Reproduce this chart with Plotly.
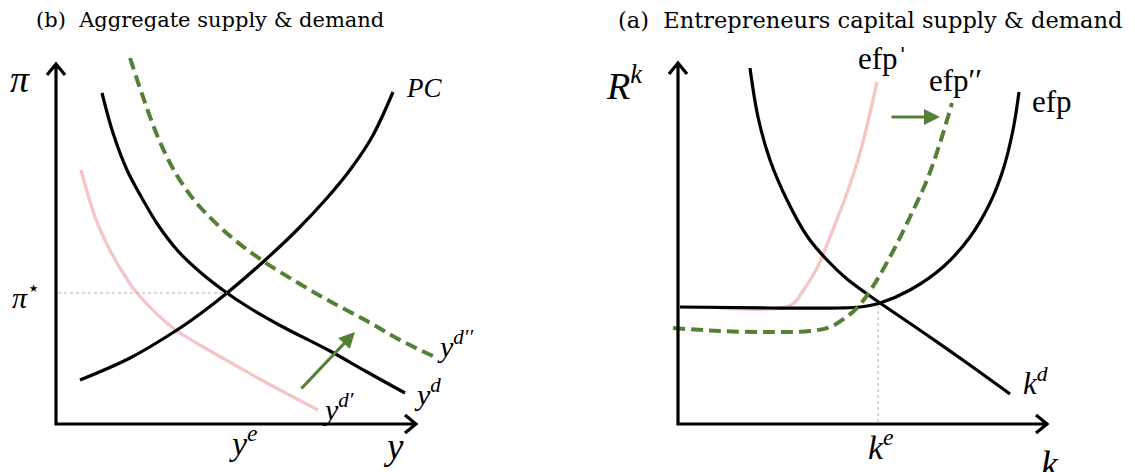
import plotly.graph_objects as go

# ---------------------------------------------------------------------------
# Curve data (diagram coordinates, y grows downward like the source figure)
# ---------------------------------------------------------------------------
# (b) Aggregate supply & demand
pc_x = [80, 130, 177, 200, 227, 263, 297, 327, 350, 372, 393]
pc_y = [380, 358, 330, 314, 293, 262, 230, 198, 170, 137, 92]

yd_x = [102, 113, 127, 143, 158, 178, 200, 227, 253, 283, 330, 367, 405]
yd_y = [93, 133, 170, 200, 225, 251, 272, 293, 310, 327, 351, 372, 393]

yd2_x = [130, 143, 157, 170, 183, 200, 230, 263, 300, 333, 367, 400, 437]
yd2_y = [58, 97, 135, 163, 185, 207, 236, 261, 284, 303, 321, 340, 358]

yd1_x = [81, 88, 95, 103, 113, 125, 137, 173, 200, 233, 267, 318]
yd1_y = [170, 195, 217, 236, 256, 276, 293, 328, 345, 364, 383, 410]

# (a) Entrepreneurs capital supply & demand
kd_x = [750, 758, 770, 787, 807, 827, 847, 870, 880, 927, 967, 1010]
kd_y = [68, 117, 160, 200, 236, 260, 279, 296, 303, 335, 363, 394]

efp_x = [680, 770, 840, 860, 880, 910, 943, 970, 990, 1003, 1013, 1019]
efp_y = [307, 308, 308, 307, 303, 290, 267, 237, 203, 170, 130, 92]

efp1_x = [720, 787, 795, 803, 817, 830, 847, 860, 870, 877]
efp1_y = [308, 307, 302, 291, 268, 237, 193, 153, 113, 82]

efp2_x = [673, 720, 770, 810, 830, 845, 858, 870, 890, 910, 927, 940, 952]
efp2_y = [328, 331, 332, 331, 327, 318, 307, 291, 257, 217, 180, 143, 103]

# equilibrium points
pi_star = (227, 293)
k_e = (878, 305)

GREEN = "#548235"
PINK = "rgba(238,150,150,0.55)"
SERIF = "DejaVu Serif"
MATH = "Liberation Serif"

# the page body adds an 8px margin, shift the ranges so coordinates match the window
OFF = 8

fig = go.Figure()


def curve(x, y, color="black", width=3.2, dash=None):
    fig.add_trace(go.Scatter(x=x, y=y, mode="lines",
                             line=dict(color=color, width=width, dash=dash, shape="spline", smoothing=1.0),
                             hoverinfo="skip", showlegend=False))


# pink (old) curves first so black ones sit on top
curve(yd1_x, yd1_y, PINK, 3.4)
curve(efp1_x, efp1_y, PINK, 3.4)
curve(pc_x, pc_y)
curve(yd_x, yd_y)
curve(yd2_x, yd2_y, GREEN, 4, "12px,6px")
curve(kd_x, kd_y)
curve(efp_x, efp_y)
curve(efp2_x, efp2_y, GREEN, 4, "12px,6px")

# dotted guide lines
fig.add_shape(type="line", x0=58, x1=pi_star[0], y0=pi_star[1], y1=pi_star[1],
              line=dict(color="#b0b0b0", width=1, dash="dot"))
fig.add_shape(type="line", x0=k_e[0], x1=k_e[0], y0=k_e[1], y1=424,
              line=dict(color="#b0b0b0", width=1, dash="dot"))


# axes with open arrow heads
def axes(ox, oy, top, right):
    b, h = 11, 9
    path = (f"M{ox},{top} L{ox},{oy} L{right},{oy} "
            f"M{ox - h},{top + b} L{ox},{top} L{ox + h},{top + b} "
            f"M{right - b},{oy - h} L{right},{oy} L{right - b},{oy + h}")
    fig.add_shape(type="path", path=path, line=dict(color="black", width=3.2))


axes(56, 424, 64, 416)
axes(678, 424, 63, 1047)

# green shift arrows
for (x0, y0, x1, y1) in [(300, 390, 355, 332), (890, 117, 940, 117)]:
    fig.add_annotation(x=x1, y=y1, ax=x0, ay=y0, xref="x", yref="y", axref="x", ayref="y",
                       showarrow=True, arrowhead=2, arrowsize=1, arrowwidth=3.2, arrowcolor=GREEN, text="")

# text labels
labels = [
    ("(b)  Aggregate supply &amp; demand", 210, 20, SERIF, 21, "center"),
    ("(a)  Entrepreneurs capital supply &amp; demand", 870, 20, SERIF, 22.5, "center"),
    ("<i>π</i>", 20, 79, MATH, 38, "center"),
    ("<i>π</i><sup>⋆</sup>", 26, 295, MATH, 30, "center"),
    ("<i>y</i><sup><i>e</i></sup>", 243, 441, MATH, 34, "center"),
    ("<i>y</i>", 393, 446, MATH, 37, "center"),
    ("<i>PC</i>", 424, 88, MATH, 27, "center"),
    ("<i>y</i><sup><i>d′′</i></sup>", 435, 344, MATH, 30, "left"),
    ("<i>y</i><sup><i>d</i></sup>", 412, 392, MATH, 30, "left"),
    ("<i>y</i><sup><i>d′</i></sup>", 320, 407, MATH, 30, "left"),
    ("<i>R</i><sup><i>k</i></sup>", 624, 83, MATH, 38, "center"),
    ("<i>k</i>", 1050, 464, MATH, 38, "center"),
    ("<i>k</i><sup><i>e</i></sup>", 881, 445, MATH, 34, "center"),
    ("<i>k</i><sup><i>d</i></sup>", 1021, 381, MATH, 31, "left"),
    ("efp", 1030, 101, MATH, 31, "left"),
    ("efp′′", 927, 80, MATH, 31, "left"),
    ("efpˈ", 856, 58, MATH, 31, "left"),
    ("21", 525, 468, MATH, 22, "center"),
]
for text, x, y, font, size, anchor in labels:
    fig.add_annotation(x=x, y=y, xref="x", yref="y", text=text, showarrow=False, xanchor=anchor,
                       yanchor="top" if text == "21" else "middle",
                       font=dict(family=font, size=size, color="black"))

fig.update_layout(
    width=1135, height=472, margin=dict(l=0, r=0, t=0, b=0),
    plot_bgcolor="white", paper_bgcolor="white", showlegend=False,
    xaxis=dict(range=[OFF, 1135 + OFF], visible=False, fixedrange=True),
    yaxis=dict(range=[472 + OFF, OFF], visible=False, fixedrange=True),
)

fig.write_html("out.html")
